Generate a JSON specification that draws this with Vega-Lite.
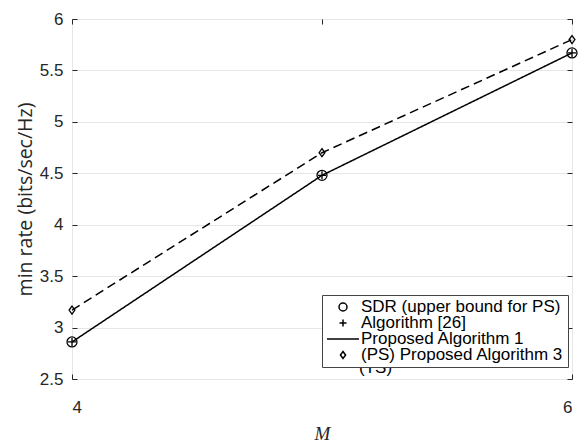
{
  "$schema": "https://vega.github.io/schema/vega-lite/v6.json",
  "width": 500,
  "height": 360,
  "autosize": {"type": "none"},
  "padding": {"left": 72, "top": 19, "right": 7, "bottom": 62},
  "background": "white",
  "config": {
    "view": {"stroke": "#5a5a5a", "strokeWidth": 1},
    "axis": {
      "labelFont": "Liberation Sans",
      "labelFontSize": 17,
      "labelColor": "#262626",
      "tickColor": "#262626",
      "domain": false,
      "gridColor": "#e6e6e6",
      "gridWidth": 1,
      "tickSize": -5
    }
  },
  "data": {
    "values": [
      {"M": 4, "rate": 2.86, "series": "SDR (upper bound for PS)", "style": "solid"},
      {"M": 5, "rate": 4.48, "series": "SDR (upper bound for PS)", "style": "solid"},
      {"M": 6, "rate": 5.67, "series": "SDR (upper bound for PS)", "style": "solid"},
      {"M": 4, "rate": 2.86, "series": "Algorithm [26]", "style": "solid"},
      {"M": 5, "rate": 4.48, "series": "Algorithm [26]", "style": "solid"},
      {"M": 6, "rate": 5.67, "series": "Algorithm [26]", "style": "solid"},
      {"M": 4, "rate": 2.86, "series": "Proposed Algorithm 1", "style": "solid"},
      {"M": 5, "rate": 4.48, "series": "Proposed Algorithm 1", "style": "solid"},
      {"M": 6, "rate": 5.67, "series": "Proposed Algorithm 1", "style": "solid"},
      {"M": 4, "rate": 3.17, "series": "(PS) Proposed Algorithm 3", "style": "(TS)"},
      {"M": 5, "rate": 4.70, "series": "(PS) Proposed Algorithm 3", "style": "(TS)"},
      {"M": 6, "rate": 5.80, "series": "(PS) Proposed Algorithm 3", "style": "(TS)"}
    ]
  },
  "layer": [
    {
      "transform": [{"filter": "datum.series === 'Proposed Algorithm 1' || datum.series === '(PS) Proposed Algorithm 3'"}],
      "mark": {"type": "line", "color": "black", "strokeWidth": 1.5},
      "encoding": {
        "x": {
          "field": "M", "type": "quantitative",
          "scale": {"domain": [4, 6], "nice": false, "zero": false},
          "axis": {"orient": "bottom", "values": [4, 5, 6], "format": "d", "labelPadding": 25,
                   "title": "M", "titleFont": "Liberation Serif", "titleFontStyle": "italic", "titleFontWeight": "normal",
                   "titleFontSize": 19, "titleColor": "#262626", "titlePadding": 9}
        },
        "y": {
          "field": "rate", "type": "quantitative",
          "scale": {"domain": [2.5, 6], "nice": false, "zero": false},
          "axis": {"orient": "left", "values": [2.5, 3, 3.5, 4, 4.5, 5, 5.5, 6], "format": "~g", "labelPadding": 14,
                   "title": "min rate (bits/sec/Hz)", "titleFont": "Open Sans", "titleFontWeight": "normal",
                   "titleFontSize": 19.5, "titleColor": "#262626", "titlePadding": 4}
        },
        "detail": {"field": "series"},
        "strokeDash": {
          "field": "style", "type": "nominal",
          "scale": {"domain": ["solid", "(TS)"], "range": [[1, 0], [9, 5]]},
          "legend": {
            "values": ["(TS)"], "title": null, "orient": "none", "legendX": 270, "legendY": 340,
            "symbolOpacity": 0, "symbolSize": 0, "labelOffset": 0, "padding": 0,
            "labelFont": "Liberation Sans", "labelFontSize": 17, "labelColor": "black"
          }
        }
      }
    },
    {
      "transform": [{"filter": "datum.series === 'SDR (upper bound for PS)'"}],
      "mark": {"type": "point", "filled": false, "color": "black", "strokeWidth": 1.3, "opacity": 1, "size": 1600},
      "encoding": {
        "x": {
          "field": "M", "type": "quantitative",
          "scale": {"domain": [4, 6], "nice": false, "zero": false},
          "axis": {"orient": "top", "values": [4, 5, 6], "labels": false, "grid": false, "title": null}
        },
        "y": {
          "field": "rate", "type": "quantitative",
          "scale": {"domain": [2.5, 6], "nice": false, "zero": false},
          "axis": {"orient": "right", "values": [2.5, 3, 3.5, 4, 4.5, 5, 5.5, 6], "labels": false, "grid": false, "title": null}
        },
        "shape": {
          "field": "series", "type": "nominal",
          "scale": {
            "domain": ["SDR (upper bound for PS)", "Algorithm [26]", "Proposed Algorithm 1", "(PS) Proposed Algorithm 3"],
            "range": [
              "M-0.25,0A0.25,0.25,0,1,1,0.25,0A0.25,0.25,0,1,1,-0.25,0Z",
              "M-0.22,0L0.22,0M0,-0.22L0,0.22",
              "M-1,0L1,0",
              "M0,-0.22L0.16,0L0,0.22L-0.16,0Z"
            ]
          },
          "legend": {
            "title": null, "orient": "none", "legendX": 250, "legendY": 276,
            "padding": 4, "rowPadding": -1, "labelOffset": 1, "labelLimit": 400,
            "clipHeight": 16,
            "strokeColor": "#444444", "fillColor": "white",
            "symbolSize": 1024,
            "symbolStrokeColor": "black", "symbolFillColor": "transparent", "symbolStrokeWidth": 1.5,
            "labelFont": "Liberation Sans", "labelFontSize": 17, "labelColor": "black"
          }
        }
      }
    },
    {
      "transform": [{"filter": "datum.series === 'Algorithm [26]' || datum.series === '(PS) Proposed Algorithm 3'"}],
      "mark": {"type": "point", "filled": false, "color": "black", "strokeWidth": 1.3, "opacity": 1, "size": 1325},
      "encoding": {
        "x": {"field": "M", "type": "quantitative", "scale": {"domain": [4, 6], "nice": false, "zero": false}, "axis": null},
        "y": {"field": "rate", "type": "quantitative", "scale": {"domain": [2.5, 6], "nice": false, "zero": false}, "axis": null},
        "shape": {"field": "series", "type": "nominal"}
      }
    }
  ],
  "resolve": {"axis": {"x": "independent", "y": "independent"}}
}
